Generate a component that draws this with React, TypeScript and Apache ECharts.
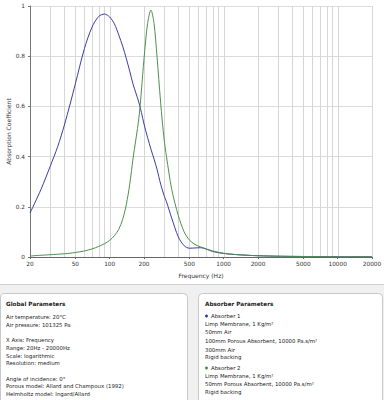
import React, { useEffect, useRef } from 'react';
import * as echarts from 'echarts';

// Frequencies (Hz) at which the curves are sampled
const freqs = [20, 25, 30, 35, 40, 45, 50, 60, 70, 80, 90, 100, 110, 120, 130, 140, 150, 160, 180, 190, 200, 215, 230, 245, 260, 280, 300, 315, 350, 400, 450, 500, 560, 630, 800, 1000, 1250, 1600, 2000, 3150, 5000, 10000, 20000];

// Absorber 1 (blue)
const absorber1 = [0.175, 0.27, 0.36, 0.44, 0.525, 0.61, 0.69, 0.83, 0.916, 0.958, 0.968, 0.956, 0.929, 0.885, 0.84, 0.79, 0.74, 0.69, 0.617, 0.575, 0.53, 0.476, 0.43, 0.39, 0.35, 0.29, 0.245, 0.22, 0.155, 0.08, 0.045, 0.035, 0.036, 0.037, 0.022, 0.014, 0.01, 0.007, 0.005, 0.003, 0.002, 0.001, 0.001];

// Absorber 2 (green)
const absorber2 = [0.004, 0.007, 0.009, 0.011, 0.013, 0.015, 0.018, 0.024, 0.032, 0.042, 0.053, 0.066, 0.085, 0.11, 0.15, 0.21, 0.29, 0.39, 0.55, 0.665, 0.79, 0.93, 0.984, 0.93, 0.8, 0.614, 0.47, 0.4, 0.27, 0.165, 0.1, 0.068, 0.05, 0.04, 0.024, 0.015, 0.01, 0.007, 0.005, 0.003, 0.002, 0.001, 0.001];

const xTickLabels = [20, 50, 100, 200, 500, 1000, 2000, 5000, 10000, 20000];
const gridFreqs = [30, 40, 50, 60, 70, 80, 90, 100, 200, 300, 400, 500, 600, 700, 800, 900, 1000, 2000, 3000, 4000, 5000, 6000, 7000, 8000, 9000, 10000, 20000];

const globalTitle = 'Global Parameters';
const globalLines = [
  'Air temperature: 20°C',
  'Air pressure: 101325 Pa',
  '',
  'X Axis: Frequency',
  'Range: 20Hz - 20000Hz',
  'Scale: logarithmic',
  'Resolution: medium',
  '',
  'Angle of incidence: 0°',
  'Porous model: Allard and Champoux (1992)',
  'Helmholtz model: Ingard/Allard',
];

const absorberTitle = 'Absorber Parameters';
const absorberLines = [
  { text: 'Absorber 1', bullet: 'a1' },
  { text: 'Limp Membrane, 1 Kg/m²' },
  { text: '50mm Air' },
  { text: '100mm Porous Absorbent, 10000 Pa.s/m²' },
  { text: '300mm Air' },
  { text: 'Rigid backing' },
  { text: 'Absorber 2', bullet: 'a2' },
  { text: 'Limp Membrane, 1 Kg/m²' },
  { text: '50mm Porous Absorbent, 10000 Pa.s/m²' },
  { text: 'Rigid backing' },
];

const BLUE = '#3c3ca0';
const GREEN = '#4f8f4f';
const FONT = '"DejaVu Sans", Verdana, sans-serif';

export default function App() {
  const ref = useRef<HTMLDivElement>(null);

  useEffect(() => {
    if (!ref.current) return;
    const chart = echarts.init(ref.current, null, { renderer: 'svg' });

    const leftYs = [317, 324.7, 332.4, 340.1, 347.8, 355.5, 363.2, 370.9, 378.6, 386.3, 394];
    const rightYs = [316, 324, 332, 341, 349.5, 357, 368, 376, 384, 392];

    const graphics: any[] = [
      { type: 'rect', z: -10, shape: { x: 0, y: 284, width: 384, height: 116 }, style: { fill: '#f0f0f0' }, silent: true },
      { type: 'line', z: -9, shape: { x1: 0, y1: 284.5, x2: 384, y2: 284.5 }, style: { stroke: '#d0d0d0', lineWidth: 1 }, silent: true },
      { type: 'rect', z: -8, shape: { x: 0.5, y: 293.5, width: 187, height: 120, r: 4 }, style: { fill: '#ffffff', stroke: '#c8c8c8', lineWidth: 1 }, silent: true },
      { type: 'rect', z: -8, shape: { x: 198.5, y: 293.5, width: 184, height: 120, r: 4 }, style: { fill: '#ffffff', stroke: '#c8c8c8', lineWidth: 1 }, silent: true },
      { type: 'text', z: 5, x: 6, y: 304, style: { text: globalTitle, fontSize: 5.7, fontWeight: 'bold', fontFamily: FONT, fill: '#222', verticalAlign: 'middle' } },
      { type: 'text', z: 5, x: 205, y: 304, style: { text: absorberTitle, fontSize: 5.7, fontWeight: 'bold', fontFamily: FONT, fill: '#222', verticalAlign: 'middle' } },
    ];
    globalLines.forEach((t, i) => {
      if (!t) return;
      graphics.push({ type: 'text', z: 5, x: 6, y: leftYs[i], style: { text: t, fontSize: 5.4, fontFamily: FONT, fill: '#222', verticalAlign: 'middle' } });
    });
    absorberLines.forEach((l, i) => {
      if (l.bullet) {
        graphics.push({ type: 'circle', z: 5, shape: { cx: 206.5, cy: rightYs[i], r: 1.4 }, style: { fill: l.bullet === 'a1' ? '#2a2aa8' : '#3a8a3a' } });
        graphics.push({ type: 'text', z: 5, x: 211, y: rightYs[i], style: { text: l.text, fontSize: 5.4, fontFamily: FONT, fill: '#222', verticalAlign: 'middle' } });
      } else {
        graphics.push({ type: 'text', z: 5, x: 205, y: rightYs[i], style: { text: l.text, fontSize: 5.4, fontFamily: FONT, fill: '#222', verticalAlign: 'middle' } });
      }
    });

    chart.setOption({
      animation: false,
      backgroundColor: '#ffffff',
      textStyle: { fontFamily: FONT },
      grid: { left: 30, right: 12, top: 6, bottom: 143, containLabel: false, outerBoundsMode: 'none' },
      xAxis: {
        type: 'value',
        min: Math.log10(20),
        max: Math.log10(20000),
        splitLine: { show: false },
        axisLine: { show: true, lineStyle: { color: '#666', width: 1 } },
        axisTick: { show: true, length: 2, customValues: xTickLabels.map((v) => Math.log10(v)), lineStyle: { color: '#666' } },
        axisLabel: {
          customValues: xTickLabels.map((v) => Math.log10(v)),
          formatter: (v: number) => String(Math.round(Math.pow(10, v))),
          fontSize: 5.8,
          color: '#333',
          margin: 4,
          fontFamily: FONT,
        },
        name: 'Frequency (Hz)',
        nameLocation: 'middle',
        nameGap: 15,
        nameMoveOverlap: false,
        nameTextStyle: { fontSize: 6, color: '#333', fontFamily: FONT },
      },
      yAxis: {
        type: 'value',
        min: 0,
        max: 1,
        interval: 0.2,
        splitLine: { show: true, lineStyle: { color: '#dcdcdc', width: 1 } },
        axisLine: { show: true, lineStyle: { color: '#777', width: 1 } },
        axisTick: { show: true, length: 2, lineStyle: { color: '#777' } },
        axisLabel: { fontSize: 5.8, color: '#333', margin: 5, fontFamily: FONT },
        name: 'Absorption Coefficient',
        nameLocation: 'middle',
        nameGap: 19,
        nameMoveOverlap: false,
        nameTextStyle: { fontSize: 6, color: '#333', fontFamily: FONT },
      },
      graphic: graphics,
      series: [
        {
          type: 'custom',
          z: 1,
          silent: true,
          renderItem: (_p: any, api: any) => {
            const x = api.value(0);
            const p0 = api.coord([x, 0]);
            const p1 = api.coord([x, 1]);
            const px = Math.round(p0[0]) + 0.5;
            return { type: 'line', shape: { x1: px, y1: p0[1], x2: px, y2: p1[1] }, style: { stroke: '#d6d6d6', lineWidth: 1 } };
          },
          encode: { x: 0, y: 1 },
          data: gridFreqs.map((f) => [Math.log10(f), 0]),
        },
        {
          type: 'line',
          name: 'Absorber 1',
          z: 3,
          showSymbol: false,
          smooth: 0.3,
          lineStyle: { color: BLUE, width: 1 },
          itemStyle: { color: BLUE },
          data: freqs.map((f, i) => [Math.log10(f), absorber1[i]]),
        },
        {
          type: 'line',
          name: 'Absorber 2',
          z: 3,
          showSymbol: false,
          smooth: 0.3,
          lineStyle: { color: GREEN, width: 1 },
          itemStyle: { color: GREEN },
          data: freqs.map((f, i) => [Math.log10(f), absorber2[i]]),
        },
      ],
    });

    return () => chart.dispose();
  }, []);

  return <div ref={ref} style={{ position: 'absolute', left: 0, top: 0, width: 384, height: 400 }} />;
}
